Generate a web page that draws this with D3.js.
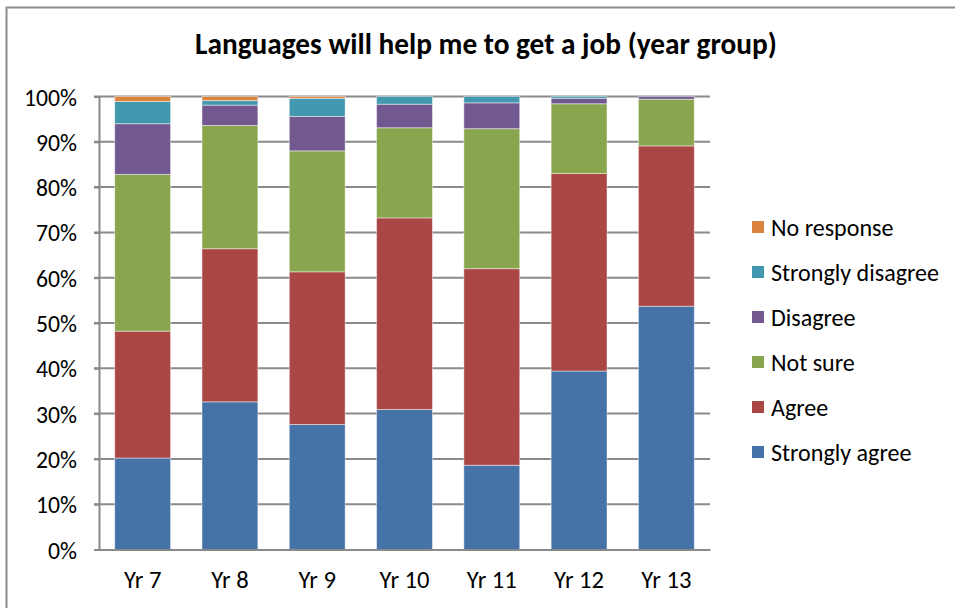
<!DOCTYPE html>
<html>
<head>
<meta charset="utf-8">
<script src="https://cdn.jsdelivr.net/npm/d3@7/dist/d3.min.js"></script>
<style>
  html, body { margin: 0; padding: 0; background: #fff; }
  svg { display: block; }
  text { font-family: Carlito, Calibri, Lato, "Noto Sans", sans-serif; fill: #000; }
</style>
</head>
<body>
<svg id="chart" width="955" height="608"></svg>
<script>
// Survey responses by year group (percent of pupils)
const yearGroups = ["Yr 7", "Yr 8", "Yr 9", "Yr 10", "Yr 11", "Yr 12", "Yr 13"];
const responses = ["Strongly agree", "Agree", "Not sure", "Disagree", "Strongly disagree", "No response"];
const stronglyAgree    = [20.2, 32.6, 27.6, 30.9, 18.6, 39.4, 53.7];
const agree            = [28.0, 33.8, 33.7, 42.3, 43.4, 43.6, 35.4];
const notSure          = [34.6, 27.2, 26.7, 19.9, 30.9, 15.4, 10.3];
const disagree         = [11.2,  4.5,  7.6,  5.2,  5.7,  1.2,  0.6];
const stronglyDisagree = [ 4.9,  1.0,  4.0,  1.7,  1.4,  0.4,  0.0];
const noResponse       = [ 1.1,  0.9,  0.4,  0.0,  0.0,  0.0,  0.0];
const yTicks = [0, 10, 20, 30, 40, 50, 60, 70, 80, 90, 100];
const colours = ["#4572A7", "#AA4643", "#89A54E", "#71588F", "#4198AF", "#DB843D"];
const titleText = "Languages will help me to get a job (year group)";

const seriesValues = [stronglyAgree, agree, notSure, disagree, stronglyDisagree, noResponse];
const table = yearGroups.map((g, i) => {
  const row = { group: g };
  responses.forEach((r, k) => { row[r] = seriesValues[k][i]; });
  return row;
});

const svg = d3.select("#chart");

// Outer chart frame
svg.append("path")
  .attr("d", "M6.5,608 L6.5,7.5 L955,7.5")
  .attr("fill", "none")
  .attr("stroke", "#8c8c8c")
  .attr("stroke-width", 2);

const plot = { left: 99, right: 710, top: 96.5, bottom: 549.5 };

const x = d3.scaleBand()
  .domain(yearGroups)
  .range([plot.left, plot.right])
  .paddingInner(0.36)
  .paddingOuter(0.18);

const y = d3.scaleLinear()
  .domain([0, 100])
  .range([plot.bottom, plot.top]);

// Fit a text element to a target width
function fitWidth(sel, target) {
  const node = sel.node();
  const size = parseFloat(sel.attr("font-size"));
  const w = node.getComputedTextLength();
  sel.attr("font-size", (size * target / w).toFixed(2));
}

// Gridlines
svg.append("g")
  .selectAll("line")
  .data(yTicks.filter(t => t > 0))
  .join("line")
  .attr("x1", plot.left - 5)
  .attr("x2", plot.right)
  .attr("y1", d => y(d))
  .attr("y2", d => y(d))
  .attr("stroke", "#8a8a8a")
  .attr("stroke-width", 2);

// Stacked bars
const stack = d3.stack().keys(responses);
const layers = stack(table);

svg.append("g")
  .selectAll("g")
  .data(layers)
  .join("g")
  .attr("fill", (d, i) => colours[i])
  .selectAll("rect")
  .data(d => d.filter(s => s[1] - s[0] > 0))
  .join("rect")
  .attr("x", d => x(d.data.group))
  .attr("width", x.bandwidth())
  .attr("y", d => y(d[1]))
  .attr("height", d => y(d[0]) - y(d[1]))
  .attr("stroke", "rgba(255,255,255,0.45)")
  .attr("stroke-width", 1);

// Axes lines
const yAxis = svg.append("g")
  .attr("transform", `translate(${plot.left},0)`)
  .call(d3.axisLeft(y).tickValues(yTicks).tickSize(5).tickFormat(d => d + "%"));
yAxis.select(".domain").attr("stroke", "#8a8a8a").attr("stroke-width", 2);
yAxis.selectAll(".tick line").attr("stroke", "#8a8a8a").attr("stroke-width", 2);
yAxis.selectAll(".tick text")
  .attr("x", -22)
  .attr("dy", "0.36em")
  .attr("font-size", 18)
  .attr("font-family", "Carlito, Calibri, Lato, 'Noto Sans', sans-serif")
  .attr("fill", "#000");
{
  const t100 = yAxis.selectAll(".tick text").filter(d => d === 100);
  const w = t100.node().getComputedTextLength();
  const fs = 18 * 53 / w;
  yAxis.selectAll(".tick text").attr("font-size", fs.toFixed(2));
}

const xAxis = svg.append("g")
  .attr("transform", `translate(0,${plot.bottom})`)
  .call(d3.axisBottom(x).tickSize(0).tickSizeOuter(0));
xAxis.select(".domain").attr("stroke", "#8a8a8a").attr("stroke-width", 2);
xAxis.selectAll(".tick text")
  .attr("y", 30)
  .attr("dy", "0.36em")
  .attr("font-size", 18)
  .attr("font-family", "Carlito, Calibri, Lato, 'Noto Sans', sans-serif")
  .attr("fill", "#000");
{
  const t10 = xAxis.selectAll(".tick text").filter(d => d === "Yr 10");
  const w = t10.node().getComputedTextLength();
  xAxis.selectAll(".tick text").attr("font-size", (18 * 50 / w).toFixed(2));
}

// Title
const title = svg.append("text")
  .attr("x", 486)
  .attr("y", 47)
  .attr("text-anchor", "middle")
  .attr("dominant-baseline", "middle")
  .attr("font-size", 24)
  .attr("font-weight", "bold")
  .text(titleText);
fitWidth(title, 582);

// Legend (top entry is the last series)
const legendItems = responses.slice().reverse();
const legend = svg.append("g");
const rows = legend.selectAll("g")
  .data(legendItems)
  .join("g")
  .attr("transform", (d, i) => `translate(752,${227 + i * 45})`);
rows.append("rect")
  .attr("x", 0)
  .attr("y", -6)
  .attr("width", 12)
  .attr("height", 12)
  .attr("fill", d => colours[responses.indexOf(d)]);
const labels = rows.append("text")
  .attr("x", 19)
  .attr("y", 0)
  .attr("dy", "0.36em")
  .attr("font-size", 19)
  .text(d => d);
{
  const ref = labels.filter(d => d === "Strongly disagree");
  const w = ref.node().getComputedTextLength();
  labels.attr("font-size", (19 * 168 / w).toFixed(2));
}
</script>
</body>
</html>
